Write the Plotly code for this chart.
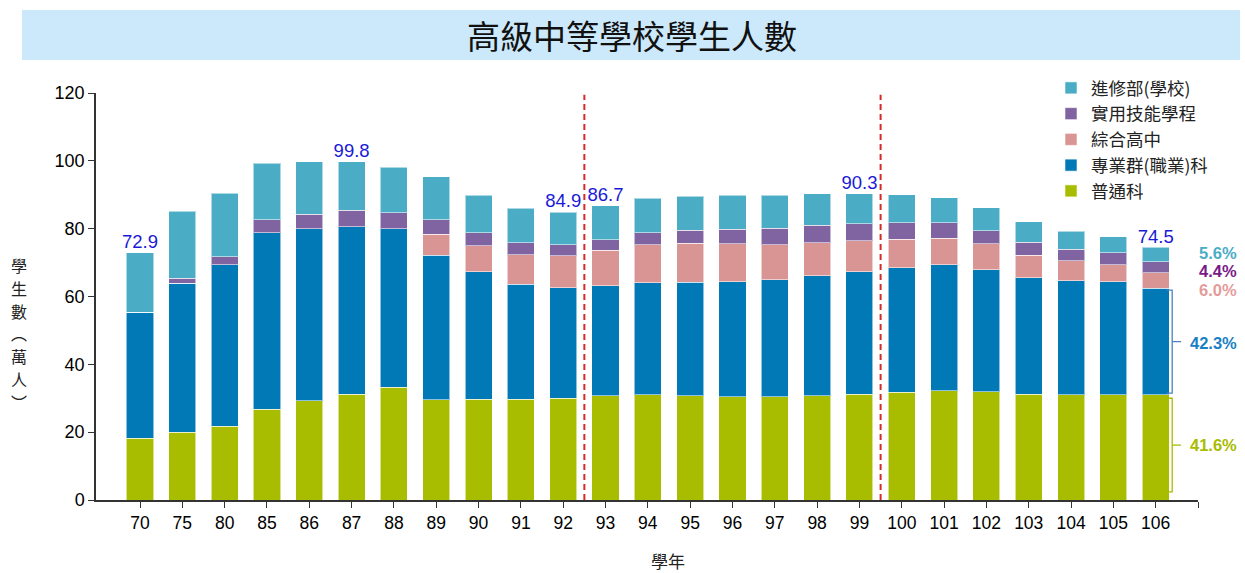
import plotly.graph_objects as go

# ---------------- data ----------------
years = ["70", "75", "80", "85", "86", "87", "88", "89", "90", "91", "92", "93",
         "94", "95", "96", "97", "98", "99", "100", "101", "102", "103", "104", "105", "106"]

general = [18.2, 20.0, 21.8, 26.8, 29.2, 31.2, 33.2, 29.5, 29.7, 29.7, 30.0, 30.7,
           31.0, 30.7, 30.4, 30.4, 30.7, 31.2, 31.7, 32.2, 31.9, 31.2, 31.0, 31.0, 31.0]
vocational = [37.2, 43.9, 47.6, 52.0, 50.8, 49.4, 46.8, 42.7, 37.6, 33.9, 32.6, 32.5,
              33.0, 33.5, 34.0, 34.5, 35.4, 36.1, 36.8, 37.1, 36.0, 34.4, 33.7, 33.4, 31.5]
comprehensive = [0, 0, 0, 0, 0, 0, 0, 6.2, 7.6, 8.7, 9.4, 10.4,
                 11.3, 11.5, 11.2, 10.4, 9.8, 9.1, 8.4, 7.9, 7.6, 6.6, 5.8, 5.0, 4.5]
practical = [0, 1.5, 2.3, 3.9, 4.3, 4.8, 4.7, 4.2, 3.9, 3.6, 3.3, 3.2,
             3.5, 3.8, 4.2, 4.8, 5.1, 5.1, 4.8, 4.5, 3.9, 3.8, 3.5, 3.5, 3.3]
continuing = [17.5, 19.8, 18.7, 16.6, 15.5, 14.4, 13.4, 12.7, 11.1, 10.1, 9.6, 9.9,
              10.2, 10.1, 10.1, 9.8, 9.3, 8.8, 8.3, 7.4, 6.8, 6.0, 5.3, 4.7, 4.2]

series_names = ["普通科", "專業群(職業)科", "綜合高中", "實用技能學程", "進修部(學校)"]
labeled_years = ["70", "87", "92", "93", "99", "106"]
divider_pairs = [("92", "93"), ("99", "100")]
y_title_chars = ["學", "生", "數", "︵", "萬", "人", "︶"]

# ---------------- style ----------------
W, H = 1245, 573
ML, MR, MT, MB = 96, 47, 93, 73
X_RANGE = [-1.04, 25.0]
Y_RANGE = [0, 120]
colors = ["#a8bc00", "#0079b6", "#d99594", "#8064a2", "#4bacc6"]
pct_colors = ["#a8bc00", "#1a80c4", "#e39c9b", "#7a1a88", "#4bacc6"]
FONT = "Arial, 'Liberation Sans', 'Noto Sans CJK TC', sans-serif"
CJK = "'Noto Sans CJK TC', 'Noto Sans CJK JP', sans-serif"

pw = W - ML - MR
ph = H - MT - MB


def px_to_paper_x(px):
    return (px - ML) / pw


def px_to_paper_y(py):
    return (H - MB - py) / ph


xs = list(range(len(years)))
series = [general, vocational, comprehensive, practical, continuing]
totals = [round(sum(v), 1) for v in zip(*series)]

fig = go.Figure()
for name, vals, col in zip(series_names, series, colors):
    fig.add_trace(go.Bar(
        x=xs, y=vals, name=name,
        marker=dict(color=col, line=dict(color="rgba(255,255,255,0.55)", width=1)),
        hoverinfo="y+name",
    ))

# total labels
lab_idx = [years.index(y) for y in labeled_years]
fig.add_trace(go.Scatter(
    x=lab_idx, y=[totals[i] for i in lab_idx],
    text=[f"{totals[i]:.1f}" for i in lab_idx],
    mode="text", textposition="top center",
    textfont=dict(color="#1a1ad6", size=18.5, family=FONT),
    showlegend=False, hoverinfo="skip", cliponaxis=False,
))

shapes = []
# title box
shapes.append(dict(type="rect", xref="paper", yref="paper",
                   x0=px_to_paper_x(22), x1=px_to_paper_x(1240),
                   y0=px_to_paper_y(60), y1=px_to_paper_y(10),
                   fillcolor="#cce9fb", line=dict(width=0), layer="below"))
# red dashed dividers
for a, b in divider_pairs:
    xm = (years.index(a) + years.index(b)) / 2
    shapes.append(dict(type="line", xref="x", yref="y", x0=xm, x1=xm, y0=0, y1=119.5,
                       line=dict(color="#d42a2a", width=2, dash="6px,4px")))

# braces on last bar
last = len(years) - 1
g_last = general[last]
v_last = vocational[last]
xl, xmid, xr = last + 0.26, last + 0.39, last + 0.6


def brace(y_bot, y_top, col):
    ym = (y_bot + y_top) / 2
    path = (f"M {xl},{y_top} L {xmid},{y_top} L {xmid},{ym} L {xr},{ym} "
            f"M {xmid},{ym} L {xmid},{y_bot} L {xl},{y_bot}")
    return dict(type="path", xref="x", yref="y", path=path,
                line=dict(color=col, width=1.3))


shapes.append(brace(2.4, g_last - 1.0, "#a8bc00"))
shapes.append(brace(g_last + 0.5, g_last + v_last - 0.6, "#4f81bd"))

annotations = []
annotations.append(dict(text="高級中等學校學生人數", xref="paper", yref="paper",
                        x=px_to_paper_x(632), y=px_to_paper_y(35),
                        xanchor="center", yanchor="middle",
                        showarrow=False, font=dict(size=33, color="#111111", family=CJK)))
for k, ch in enumerate(y_title_chars):
    annotations.append(dict(text=ch, xref="paper", yref="paper",
                            x=px_to_paper_x(19), y=px_to_paper_y(265 + 22.8 * k),
                            xanchor="center", yanchor="middle", showarrow=False,
                            font=dict(size=16, color="#222222", family=CJK)))
annotations.append(dict(text="學年", xref="paper", yref="paper",
                        x=px_to_paper_x(668), y=px_to_paper_y(560),
                        xanchor="center", yanchor="middle",
                        showarrow=False, font=dict(size=17, color="#222222", family=CJK)))

# percentage labels for last year
tot_last = totals[last]
pcts = [v[last] / tot_last * 100 for v in series]
pct_px_y = [445, 343, 290, 271, 253]
pct_px_x = [1213, 1213, 1218, 1218, 1218]
for p, c, py, pxx in zip(pcts, pct_colors, pct_px_y, pct_px_x):
    annotations.append(dict(text=f"<b>{p:.1f}%</b>", xref="paper", yref="paper",
                            x=px_to_paper_x(pxx), y=px_to_paper_y(py), showarrow=False,
                            xanchor="center", yanchor="middle",
                            font=dict(size=16.5, color=c, family=FONT)))

fig.update_layout(
    width=W, height=H,
    margin=dict(l=ML, r=MR, t=MT, b=MB),
    paper_bgcolor="white", plot_bgcolor="white",
    barmode="stack", bargap=0.36,
    font=dict(family=FONT, size=17, color="#000000"),
    shapes=shapes, annotations=annotations,
    legend=dict(x=px_to_paper_x(1051), y=px_to_paper_y(70), xanchor="left", yanchor="top",
                traceorder="reversed", font=dict(size=17.5, family=CJK, color="#222222"),
                bgcolor="rgba(255,255,255,0)", tracegroupgap=0, itemwidth=30),
    xaxis=dict(range=X_RANGE, tickmode="array", tickvals=xs + [X_RANGE[1]],
               ticktext=years + [""], showgrid=False, zeroline=False,
               showline=True, linecolor="#333333", linewidth=1.5,
               ticks="outside", ticklen=6, tickcolor="#333333",
               tickfont=dict(size=17.5, family=FONT, color="#000000")),
    yaxis=dict(range=Y_RANGE, tickvals=[0, 20, 40, 60, 80, 100, 120], showgrid=False,
               zeroline=False, showline=True, linecolor="#333333", linewidth=1.5,
               ticks="outside", ticklen=6, tickcolor="#333333",
               tickfont=dict(size=18, family=FONT, color="#000000")),
)

fig.write_html("out.html", config={"displayModeBar": False},
               post_script="document.body.style.margin='0px';")
